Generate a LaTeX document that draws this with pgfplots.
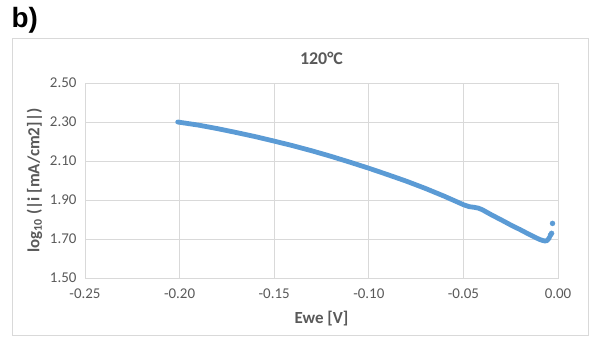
\documentclass[border=0pt]{standalone}
\usepackage{pgfplots}
\pgfplotsset{compat=1.18}
\usepackage{fontspec}
\setmainfont{Carlito}
\newfontfamily\arialfont{Liberation Sans}
\definecolor{xlblue}{HTML}{5B9BD5}
\definecolor{xlgrid}{HTML}{D9D9D9}
\definecolor{xltext}{HTML}{595959}
\begin{document}
\begin{tikzpicture}[x=1bp,y=1bp]
\useasboundingbox (0,0) rectangle (594,342);
\draw[xlgrid, line width=0.8bp] (12,7) rectangle (588,304);
\node[font=\arialfont\fontsize{28}{30}\selectfont\bfseries, anchor=west] at (8,322) {b)};
\begin{axis}[
  at={(85bp,64bp)}, anchor=south west,
  scale only axis, width=473bp, height=195bp,
  xmin=-0.25, xmax=0, ymin=1.5, ymax=2.5,
  xtick={-0.25,-0.20,...,0.01}, ytick={1.5,1.7,...,2.51},
  grid=major, major grid style={xlgrid, line width=0.8bp},
  axis line style={xlgrid, line width=0.8bp},
  tick style={draw=none},
  /pgf/number format/assume math mode=true,
  /pgf/number format/.cd, fixed, fixed zerofill, precision=2, /pgfplots/.cd,
  ticklabel style={font=\fontsize{15}{17}\selectfont, text=xltext},
  yticklabel style={xshift=-5bp},
  xticklabel style={yshift=-7bp},
  title={\bfseries 120°C},
  title style={font=\fontsize{18}{20}\selectfont, text=xltext, at={(0.5,1)}, yshift=9bp},
  xlabel={\bfseries Ewe [V]},
  xlabel style={font=\fontsize{17}{19}\selectfont, text=xltext, yshift=-6bp},
  ylabel={\bfseries log\textsubscript{10} (|i [mA/cm2]|)},
  ylabel style={font=\fontsize{17}{19}\selectfont, text=xltext, yshift=1bp},
]
\addplot[xlblue, line width=4.8bp, line join=round, line cap=round] coordinates {
(-0.201,2.300) (-0.19,2.284) (-0.18,2.266) (-0.17,2.246) (-0.16,2.225)
(-0.15,2.202) (-0.14,2.178) (-0.13,2.152) (-0.12,2.124) (-0.11,2.094)
(-0.10,2.063) (-0.09,2.030) (-0.08,1.996) (-0.07,1.959) (-0.06,1.919)
(-0.05,1.876) (-0.047,1.866) (-0.044,1.862) (-0.042,1.858) (-0.040,1.850)
(-0.035,1.823) (-0.030,1.798) (-0.025,1.772) (-0.020,1.748) (-0.0147,1.721)
(-0.012,1.708) (-0.0095,1.697) (-0.008,1.692) (-0.0069,1.690) (-0.006,1.691)
(-0.0052,1.698) (-0.0045,1.708)
};
\addplot[only marks, mark=*, mark size=2.5bp, xlblue] coordinates {
(-0.0040,1.720) (-0.0034,1.729) (-0.0029,1.780)
};
\end{axis}
\end{tikzpicture}
\end{document}
